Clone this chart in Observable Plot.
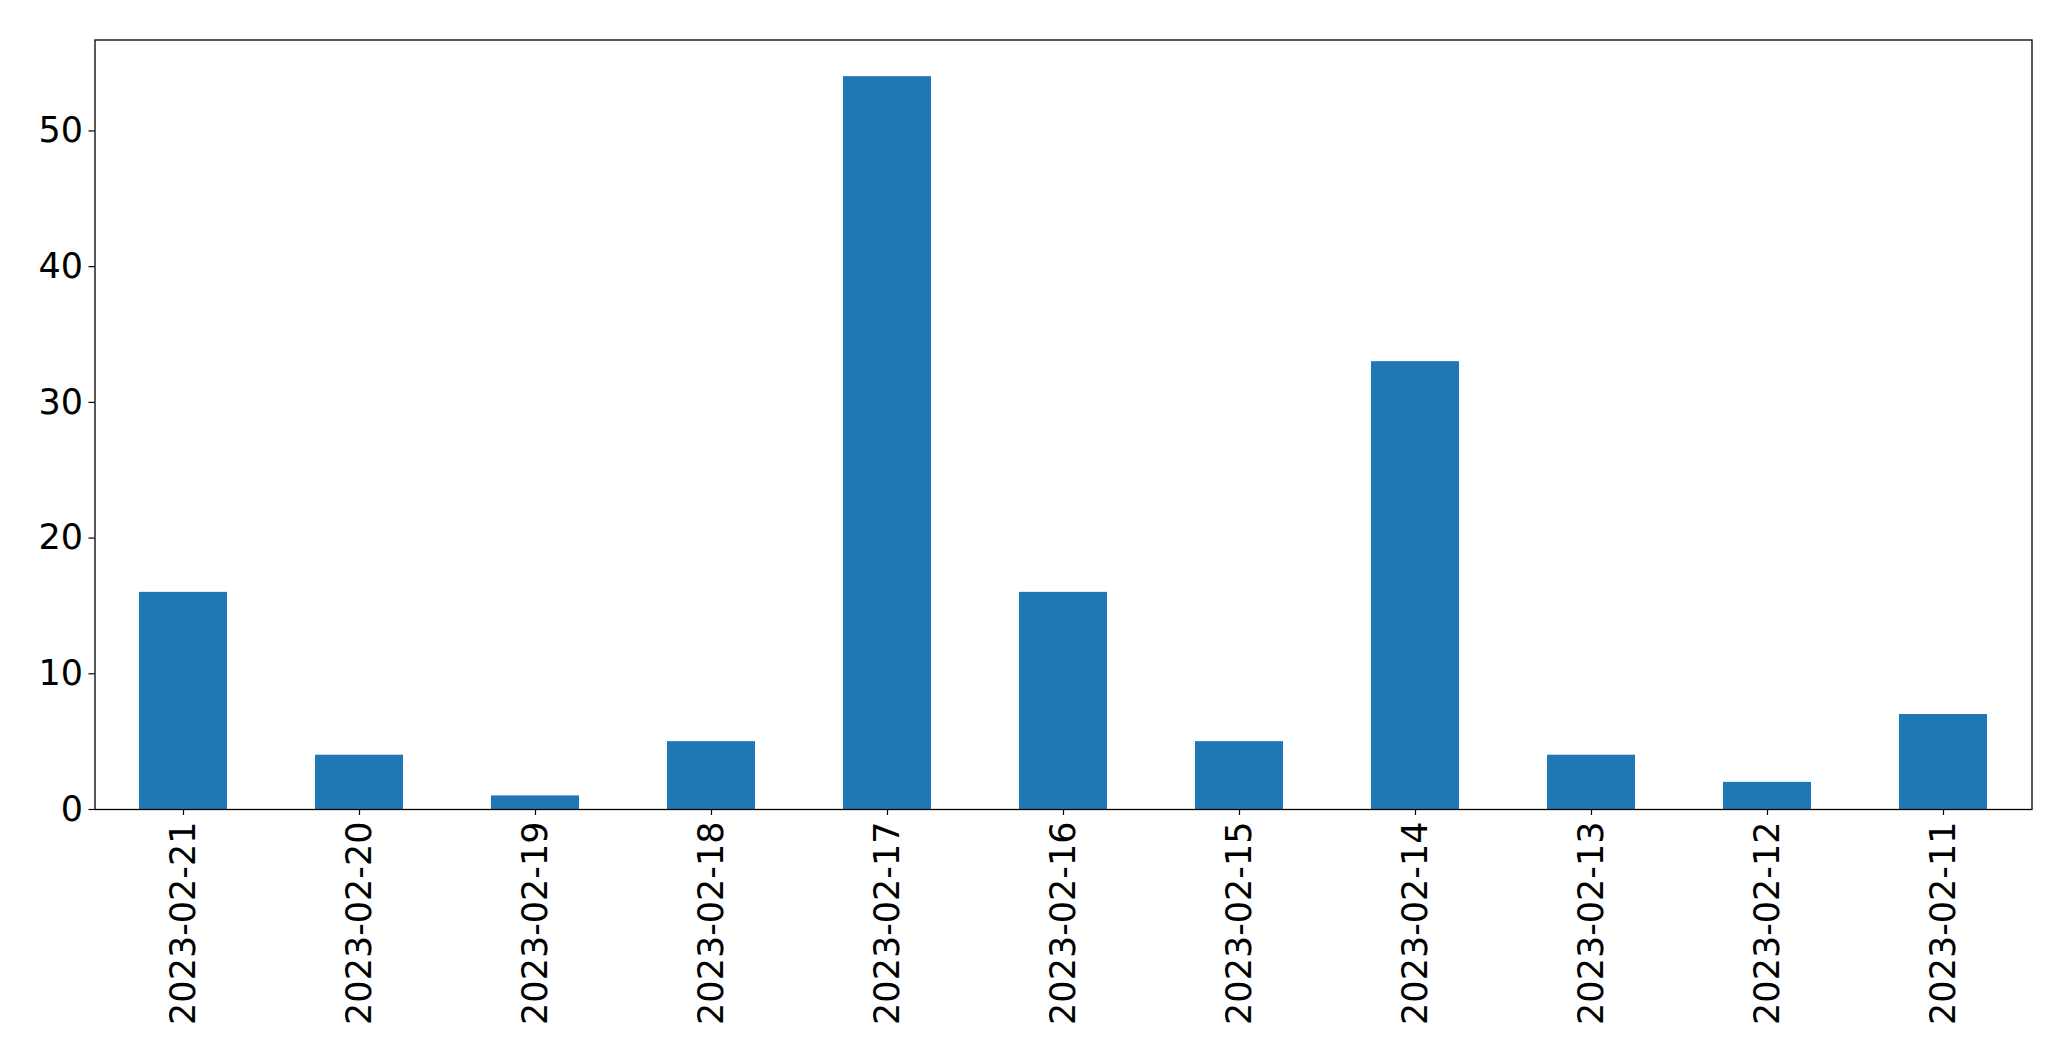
<!DOCTYPE html>
<html>
<head>
<meta charset="utf-8">
<script src="https://cdn.jsdelivr.net/npm/d3@7"></script>
<script src="https://cdn.jsdelivr.net/npm/@observablehq/plot@0.6"></script>
<style>
  html, body { margin: 0; padding: 0; background: #fff; }
  #chart svg { display: block; }
</style>
</head>
<body>
<div id="chart"></div>
<script>
const dates = ["2023-02-21","2023-02-20","2023-02-19","2023-02-18","2023-02-17","2023-02-16","2023-02-15","2023-02-14","2023-02-13","2023-02-12","2023-02-11"];
const counts = [16, 4, 1, 5, 54, 16, 5, 33, 4, 2, 7];
const yTicks = [0, 10, 20, 30, 40, 50];

const data = dates.map((d, i) => ({date: d, count: counts[i]}));

const chart = Plot.plot({
  width: 2071,
  height: 1061,
  marginLeft: 94.5,
  marginRight: 39.5,
  marginTop: 39.5,
  marginBottom: 252,
  style: {fontFamily: "DejaVu Sans", fontSize: "35px", color: "#000", background: "#fff"},
  x: {domain: dates, paddingInner: 0.5, paddingOuter: 0.25, label: null},
  y: {domain: [0, 56.7], label: null},
  marks: [
    Plot.barY(data, {x: "date", y: "count", fill: "#1f77b4"}),
    Plot.axisY({ticks: yTicks, tickSize: 6, tickPadding: 6, fontSize: 35, label: null, stroke: "#000", strokeWidth: 1.2}),
    Plot.axisX({tickSize: 6, tickPadding: 6, tickRotate: -90, fontSize: 35, label: null, stroke: "#000", strokeWidth: 1.2}),
    Plot.frame({stroke: "#000", strokeWidth: 1.3})
  ]
});
document.getElementById("chart").appendChild(chart);
</script>
</body>
</html>
